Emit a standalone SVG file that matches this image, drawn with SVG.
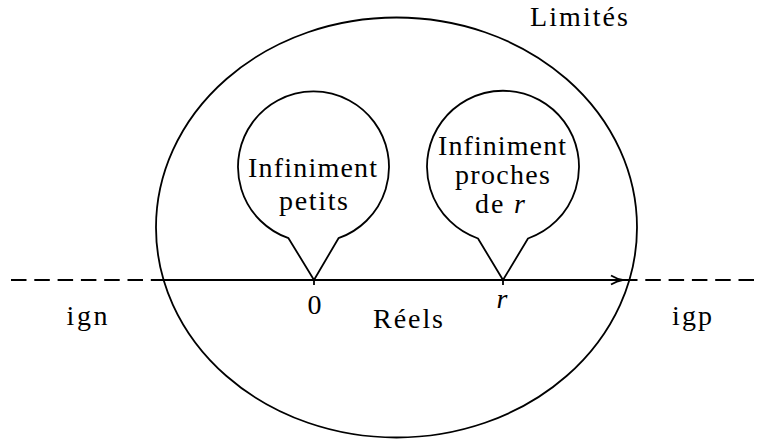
<svg xmlns="http://www.w3.org/2000/svg" width="761" height="442" viewBox="0 0 761 442">
<style>
.ln{fill:none;stroke:#000;stroke-width:1.8;stroke-linejoin:miter}
.ax{fill:none;stroke:#000;stroke-width:1.8}
.dash{fill:none;stroke:#000;stroke-width:1.8;stroke-dasharray:15.5 7.8}
.it{font-style:italic}
</style>
<rect width="761" height="442" fill="#fff"/>
<g font-family="Liberation Serif, DejaVu Serif, serif" font-size="28" text-anchor="middle" fill="#000">
<g id="limites">
<ellipse class="ln" cx="396.5" cy="227.5" rx="240.5" ry="210"/>
<text x="579" y="26" textLength="98">Limités</text>
</g>
<g id="connectors">
<line class="dash" x1="11" y1="280" x2="164" y2="280"/>
<line class="dash" x1="622" y1="280" x2="761" y2="280"/>
<line class="ax" x1="163" y1="280" x2="621" y2="280"/>
<path class="ax" d="M611,275.5 Q617,279 622.5,280 Q617,281 611,284.5"/>
<line class="ax" x1="314" y1="280" x2="314" y2="285"/>
<line class="ax" x1="503" y1="280" x2="503" y2="285"/>
</g>
<g id="petits">
<path class="ln" d="M288.5,238.2 A75.5,75.5 0 1 1 338.5,238.2 L314,280 Z" fill="#fff"/>
<text x="312.5" y="177" textLength="129">Infiniment</text>
<text x="313.5" y="210" textLength="69">petits</text>
</g>
<g id="proches">
<path class="ln" d="M478,238.5 A76,76 0 1 1 528,238.5 L503,280 Z" fill="#fff"/>
<text x="502" y="155" textLength="128">Infiniment</text>
<text x="502.5" y="184" textLength="95">proches</text>
<text x="500" y="213" textLength="50">de <tspan class="it">r</tspan></text>
</g>
<g id="labels">
<text x="87" y="325" textLength="41">ign</text>
<text x="692" y="325" textLength="40">igp</text>
<text x="408" y="328" textLength="70">Réels</text>
<text x="314.5" y="314">0</text>
<text class="it" x="502" y="308">r</text>
</g>
</g>
</svg>
